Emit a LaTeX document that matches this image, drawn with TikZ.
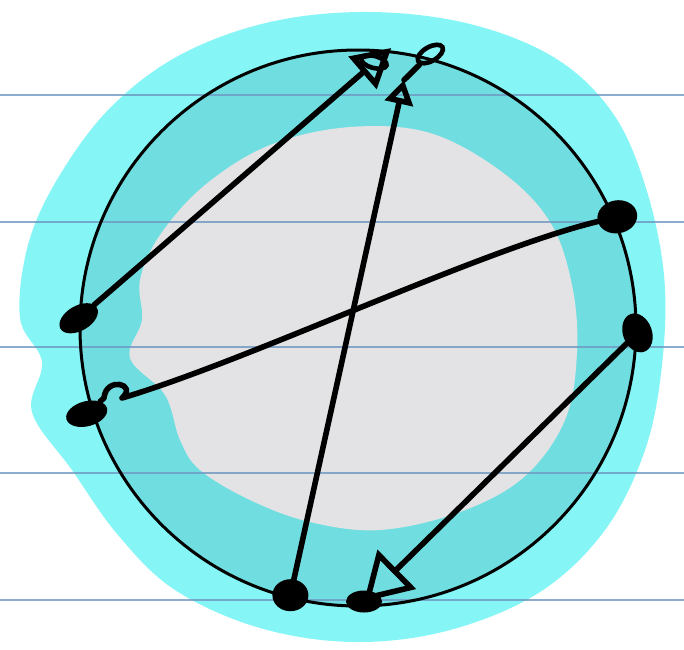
\documentclass[tikz,border=0pt]{standalone}
\usetikzlibrary{arrows.meta,shapes.geometric}

\definecolor{cyanout}{HTML}{85F5F6}
\definecolor{cyanring}{HTML}{70DEE0}
\definecolor{greyin}{HTML}{E3E3E5}
\definecolor{ruleblue}{HTML}{6F97C0}

\begin{document}
\begin{tikzpicture}[
  x=1pt,y=-1pt,
  rim/.style={circle, draw=black, line width=3pt, minimum size=556pt, inner sep=0pt},
  dot/.style={ellipse, fill=black, inner sep=0pt, minimum width=42pt, minimum height=25pt},
  loopmark/.style={ellipse, draw=black, line width=4.6pt, inner sep=0pt, minimum width=28pt, minimum height=14pt},
  chord/.style={line width=5.6pt, line cap=round, line join=round, draw=black},
  ruling/.style={line width=2.4pt, draw=ruleblue, opacity=0.8}
]
\useasboundingbox (0,0) rectangle (684,649);

% Outer cyan halo
\fill[cyanout] plot[smooth cycle, tension=0.6] coordinates {
  (370,12) (470,24) (555,58) (612,112) (645,185) (664,275) (662,365)
  (645,450) (605,530) (540,592) (450,630) (355,642) (260,628) (175,590)
  (118,535) (72,470) (32,412) (42,362) (20,318) (28,245) (58,178)
  (110,108) (180,55) (270,22)};

% Disc and grey core
\fill[cyanring] (358,328) circle (278);
\fill[greyin] plot[smooth cycle, tension=0.6] coordinates {
  (350,127) (430,133) (502,172) (550,222) (572,285) (577,352) (565,420)
  (524,477) (460,512) (380,530) (310,522) (250,500) (200,470) (180,440)
  (165,395) (130,358) (142,320) (140,280) (160,235) (205,185) (270,145)};

% Ruled paper lines
\draw[ruling] (0,95) -- (684,95);
\draw[ruling] (0,222) -- (684,222);
\draw[ruling] (0,347) -- (684,347);
\draw[ruling] (0,473) -- (684,473);
\draw[ruling] (0,600) -- (684,600);

% The circle
\node[rim] (ring) at (358,328) {};

% Points on the circle
\node[dot, rotate=30] (ptA) at (ring.178) {};
\node[dot, rotate=15] (ptB) at ([shift={(-4,4)}]ring.197) {};
\node[dot, minimum width=40pt, minimum height=33pt, rotate=10] (ptC) at ([shift={(2,-2)}]ring.23) {};
\node[dot, minimum width=29pt, minimum height=40pt, rotate=20] (ptD) at (ring.-1) {};
\node[dot, minimum width=36pt, minimum height=32pt] (ptE) at ([shift={(0,-4)}]ring.256) {};
\node[dot, minimum width=36pt, minimum height=22pt] (ptF) at ([shift={(6,-6)}]ring.270) {};
\coordinate (ptG) at ([shift={(4,-2)}]ring.84);
\node[loopmark, rotate=30] (ptH) at ([shift={(0,-4)}]ring.75) {};
\node[loopmark, minimum width=26pt, minimum height=12pt, rotate=-15] (curlG) at (374,62) {};
\coordinate (tipT) at (404,80);

% Chords
\draw[chord, -{Triangle[open, length=38pt, width=42pt]}] (ptA) -- (ptG);
\draw[chord, -{Triangle[open, length=24pt, width=28pt]}] (ptE) -- (tipT);
\draw[chord] (tipT) -- (ptH);
\draw[chord] (ptC) .. controls (480,250) and (250,360) .. (122,398)
  .. controls (138,384) and (106,376) .. (104,398) -- (ptB);
\draw[chord, -{Triangle[open, length=46pt, width=54pt]}] (ptD) -- (ptF.center);

\end{tikzpicture}
\end{document}
